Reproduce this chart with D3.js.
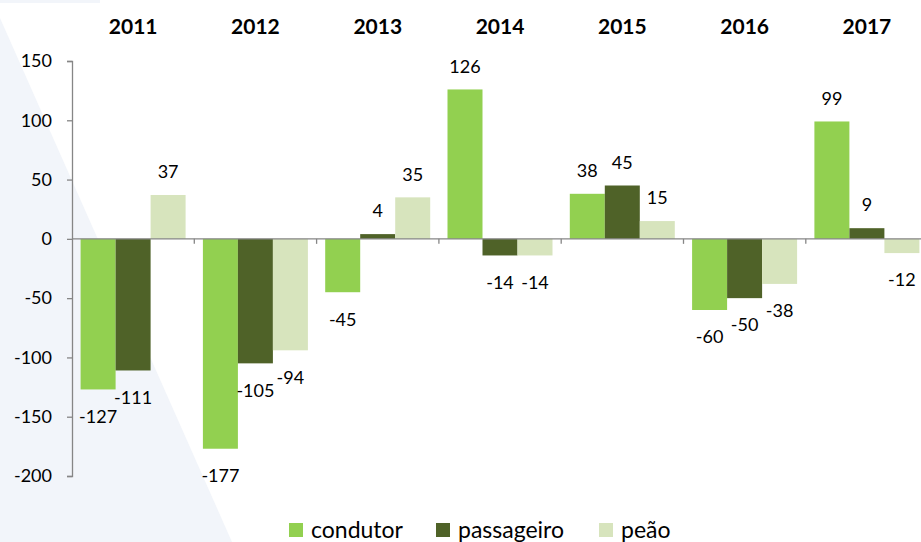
<!DOCTYPE html>
<html>
<head>
<meta charset="utf-8">
<script src="https://cdn.jsdelivr.net/npm/d3@7"></script>
<style>
  body { margin: 0; background: #fff; }
  svg { display: block; font-family: Lato, "Open Sans", sans-serif; }
</style>
</head>
<body>
<svg id="chart" width="921" height="542"></svg>
<script>
const years = ["2011", "2012", "2013", "2014", "2015", "2016", "2017"];
const series = ["condutor", "passageiro", "peão"];
const condutor = [-127, -177, -45, 126, 38, -60, 99];
const passageiro = [-111, -105, 4, -14, 45, -50, 9];
const peao = [37, -94, 35, -14, 15, -38, -12];
const yTicks = [150, 100, 50, 0, -50, -100, -150, -200];
const colors = ["#92d050", "#4f6228", "#d7e4bd"];

const values = [condutor, passageiro, peao];
const svg = d3.select("#chart");
const width = 921, height = 542;

// faint background shapes
svg.append("polygon")
  .attr("points", "0,18 232,542 0,542")
  .attr("fill", "#f2f5fa");
svg.append("rect").attr("x", 0).attr("y", 0).attr("width", 100).attr("height", 3).attr("fill", "#f2f5fa");

const x = d3.scaleBand().domain(years).range([72, 72 + 122.3 * 7]);
// three bars of ~35px, centred in each year slot
const xs = d3.scaleBand().domain(series).range([8.6, 8.6 + 105]);
const y = d3.scaleLinear().domain([-200, 150]).range([476, 61]);

// y axis
const yAxis = svg.append("g")
  .attr("transform", "translate(72,0)")
  .call(d3.axisLeft(y).tickValues(yTicks).tickSize(5).tickPadding(15).tickFormat(d => String(d)));
yAxis.select(".domain").attr("stroke", "#868686").attr("stroke-width", 1.3);
yAxis.selectAll(".tick line").attr("stroke", "#868686").attr("stroke-width", 1.3);
yAxis.selectAll(".tick text").attr("font-size", 18).attr("fill", "#000")
  .attr("font-family", "Lato, sans-serif");

// bars
const groups = svg.append("g").selectAll("g")
  .data(years)
  .join("g")
  .attr("transform", d => `translate(${x(d)},0)`);

groups.selectAll("rect")
  .data((d, i) => series.map((s, j) => ({ s, j, v: values[j][i] })))
  .join("rect")
  .attr("x", d => xs(d.s))
  .attr("width", xs.bandwidth())
  .attr("y", d => y(Math.max(0, d.v)))
  .attr("height", d => Math.abs(y(d.v) - y(0)))
  .attr("fill", d => colors[d.j]);

groups.selectAll("text.val")
  .data((d, i) => series.map((s, j) => ({ s, j, v: values[j][i] })))
  .join("text")
  .attr("class", "val")
  .attr("x", d => xs(d.s) + xs.bandwidth() / 2)
  .attr("y", d => d.v >= 0 ? y(d.v) - 23 : y(d.v) + 27)
  .attr("dy", "0.35em")
  .attr("text-anchor", "middle")
  .attr("font-size", 18)
  .text(d => d.v);

// x axis at zero
svg.append("line")
  .attr("x1", 72).attr("x2", width)
  .attr("y1", y(0)).attr("y2", y(0))
  .attr("stroke", "#868686").attr("stroke-width", 1.3);
svg.append("g").selectAll("line")
  .data(years.slice(1))
  .join("line")
  .attr("x1", d => x(d)).attr("x2", d => x(d))
  .attr("y1", y(0)).attr("y2", y(0) + 5)
  .attr("stroke", "#868686").attr("stroke-width", 1.3);

// year labels on top
svg.append("g").selectAll("text")
  .data(years)
  .join("text")
  .attr("x", d => x(d) + x.bandwidth() / 2)
  .attr("y", 27)
  .attr("dy", "0.35em")
  .attr("text-anchor", "middle")
  .attr("font-size", 21)
  .attr("font-weight", "bold")
  .text(d => d);

// legend
const legendX = [289, 436, 599];
const legend = svg.append("g").selectAll("g")
  .data(series)
  .join("g")
  .attr("transform", (d, i) => `translate(${legendX[i]},523)`);
legend.append("rect").attr("width", 14).attr("height", 14).attr("fill", (d, i) => colors[i]);
legend.append("text")
  .attr("x", 22).attr("y", 7).attr("dy", "0.35em")
  .attr("font-size", 23)
  .text(d => d);
</script>
</body>
</html>
